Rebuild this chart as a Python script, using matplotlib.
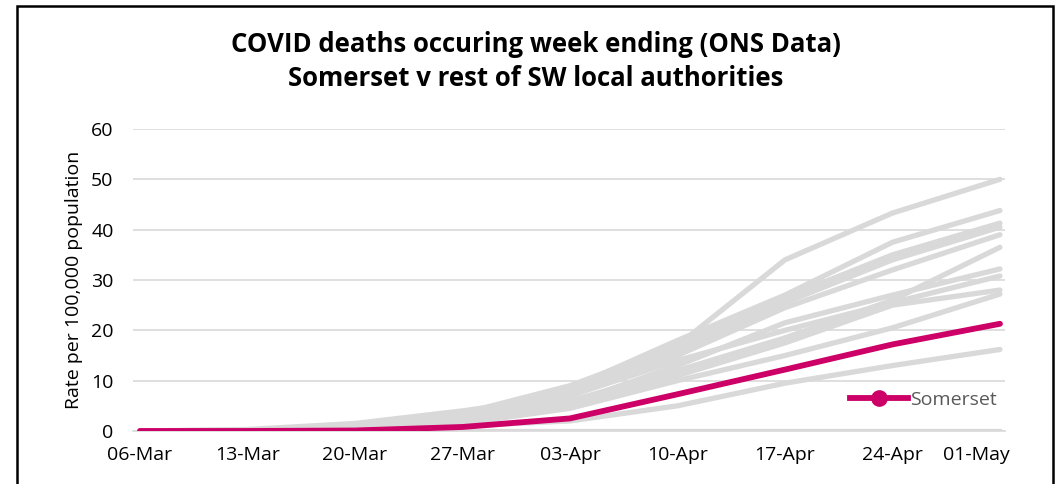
import matplotlib.pyplot as plt
import matplotlib.patches as patches
import matplotlib.transforms as mtrans

plt.rcParams['font.family'] = ['Open Sans', 'DejaVu Sans']

weeks = ["06-Mar", "13-Mar", "20-Mar", "27-Mar", "03-Apr", "10-Apr", "17-Apr", "24-Apr", "01-May"]

# Somerset rate per 100,000
somerset = [0, 0, 0.1, 0.8, 2.5, 7.3, 12.2, 17.2, 21.3]

# rest of SW local authorities (unlabelled grey lines)
sw_a = [0, 0, 0.5, 2.5, 7.0, 17.0, 34.0, 43.3, 50.0]
sw_b = [0, 0, 0.5, 3.0, 8.5, 18.0, 27.0, 37.5, 43.8]
sw_c = [0, 0.2, 1.0, 3.5, 9.0, 17.0, 26.5, 35.0, 41.3]
sw_d = [0, 0, 1.0, 3.0, 8.0, 16.0, 25.5, 34.0, 40.5]
sw_e = [0, 0, 0.8, 2.5, 7.0, 15.0, 24.5, 32.0, 39.0]
sw_f = [0, 0, 0.3, 2.0, 6.0, 12.0, 18.5, 26.0, 36.5]
sw_g = [0, 0, 0.5, 2.0, 5.5, 13.0, 21.5, 27.0, 32.2]
sw_h = [0, 0.3, 1.5, 4.0, 7.0, 14.0, 20.0, 25.5, 30.8]
sw_i = [0, 0, 0.5, 2.0, 5.0, 11.0, 17.5, 25.0, 28.0]
sw_j = [0, 0, 0.3, 1.5, 4.5, 10.0, 15.0, 20.5, 27.2]
sw_k = [0, 0, 0.2, 1.0, 2.0, 5.0, 9.5, 13.0, 16.2]
sw_l = [0, 0, 0, 0, 0, 0, 0, 0, 0]
others = [sw_a, sw_b, sw_c, sw_d, sw_e, sw_f, sw_g, sw_h, sw_i, sw_j, sw_k, sw_l]

fig = plt.figure(figsize=(10.61, 4.84), dpi=100)
ax = fig.add_axes([133 / 1061, 53 / 484, 872 / 1061, 302 / 484])

x = list(range(len(weeks)))
for s in others:
    ax.plot(x, s, color="#d9d9d9", lw=3.8, solid_capstyle="round", zorder=2)
ax.plot(x, somerset, color="#cc0066", lw=4.2, solid_capstyle="round", zorder=3)

ax.set_xlim(-0.065, 8.047)
ax.set_ylim(0, 60)
ax.set_yticks(range(0, 61, 10))
ax.set_xticks(x)
ax.set_xticklabels(weeks)
ax.grid(axis="y", color="#d9d9d9", lw=1.2, zorder=0)
ax.set_axisbelow(True)
for sp in ["top", "right", "left"]:
    ax.spines[sp].set_visible(False)
ax.spines["bottom"].set_color("#d9d9d9")
ax.spines["bottom"].set_linewidth(1.2)
ax.tick_params(length=0, labelsize=14, colors="black", pad=11)
ax.tick_params(axis="y", pad=14)
ax.set_ylabel("Rate per 100,000 population", fontsize=14, labelpad=6)

# last date label sits inside the chart edge like in Excel
last = ax.get_xticklabels()[-1]
last.set_transform(last.get_transform() + mtrans.ScaledTranslation(-0.24, 0, fig.dpi_scale_trans))

# legend handle with a visible dot
h, = ax.plot([], [], color="#cc0066", lw=4.2, marker="o", markersize=11, label="Somerset")
leg = ax.legend(handles=[h], loc="lower right", bbox_to_anchor=(1.005, 0.03), frameon=True,
                fontsize=14, handlelength=3.0, handletextpad=0.1, borderpad=0.15)
leg.get_frame().set_edgecolor("none")
leg.get_frame().set_facecolor("white")
for t in leg.get_texts():
    t.set_color("#595959")

fig.text(536 / 1061, 1 - 45 / 484, "COVID deaths occuring week ending (ONS Data)",
         ha="center", va="center", fontsize=18.5, fontweight="bold")
fig.text(536 / 1061, 1 - 78 / 484, "Somerset v rest of SW local authorities",
         ha="center", va="center", fontsize=18.5, fontweight="bold")

# outer border of the chart box
fig.patches.append(patches.Rectangle((17 / 1061, -0.05), 1036 / 1061, 1.05 - 6 / 484,
                                     transform=fig.transFigure, fill=False,
                                     edgecolor="black", lw=1.8))

fig.savefig("out.png", dpi=100)
